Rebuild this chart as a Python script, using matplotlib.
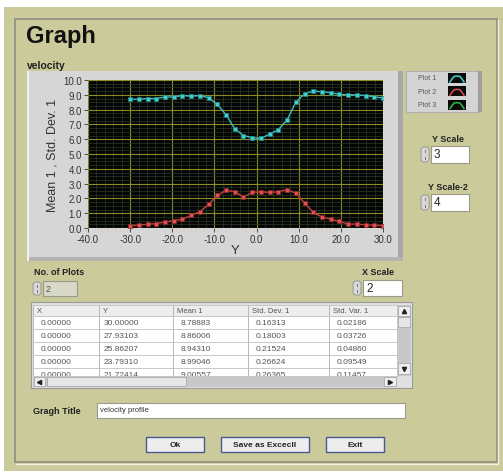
import matplotlib
matplotlib.use("Agg")
import matplotlib.pyplot as plt
from matplotlib.patches import Rectangle, FancyBboxPatch
from matplotlib.ticker import AutoMinorLocator

# ---------------- data ----------------
y_pos = [30.00000, 27.93103, 25.86207, 23.79310, 21.72414, 19.65517, 17.58621,
         15.51724, 13.44828, 11.37931, 9.31034, 7.24138, 5.17241, 3.10345,
         1.03448, -1.03448, -3.10345, -5.17241, -7.24138, -9.31034, -11.37931,
         -13.44828, -15.51724, -17.58621, -19.65517, -21.72414, -23.79310,
         -25.86207, -27.93103, -30.00000]
mean1 = [8.789, 8.860, 8.943, 8.990, 9.006, 9.03, 9.15, 9.20, 9.26, 9.07,
         8.50, 7.30, 6.65, 6.35, 6.05, 6.10, 6.25, 6.70, 7.65, 8.35,
         8.80, 8.95, 8.90, 8.95, 8.85, 8.85, 8.75, 8.75, 8.70, 8.70]
std1 = [0.163, 0.180, 0.215, 0.266, 0.264, 0.45, 0.60, 0.75, 1.05, 1.70,
        2.35, 2.60, 2.45, 2.40, 2.45, 2.40, 2.10, 2.45, 2.55, 2.20,
        1.60, 1.10, 0.85, 0.60, 0.50, 0.40, 0.30, 0.25, 0.20, 0.15]

table_cols = ["X", "Y", "Mean 1", "Std. Dev. 1", "Std. Var. 1"]
table_rows = [
    ["0.00000", "30.00000", "8.78883", "0.16313", "0.02186"],
    ["0.00000", "27.93103", "8.86006", "0.18003", "0.03726"],
    ["0.00000", "25.86207", "8.94310", "0.21524", "0.04860"],
    ["0.00000", "23.79310", "8.99046", "0.26624", "0.09549"],
    ["0.00000", "21.72414", "9.00557", "0.26365", "0.11457"],
]
x_ticks = [-40, -30, -20, -10, 0, 10, 20, 30]
y_ticks = [0, 1, 2, 3, 4, 5, 6, 7, 8, 9, 10]
legend_names = ["Plot 1", "Plot 2", "Plot 3"]
legend_colors = ["#3EC8C8", "#D84848", "#30B040"]

W, H = 503, 477
BEIGE = "#CACA9B"
FONT = ["Liberation Sans", "DejaVu Sans"]
plt.rcParams["font.family"] = FONT

fig = plt.figure(figsize=(W / 100, H / 100), dpi=100)
fig.patch.set_facecolor("white")

# overlay axes in pixel coordinates
ov = fig.add_axes([0, 0, 1, 1])
ov.set_xlim(0, W)
ov.set_ylim(H, 0)
ov.axis("off")


def rect(x0, y0, x1, y1, fc, ec="none", lw=0.8, z=1):
    ov.add_patch(Rectangle((x0, y0), x1 - x0, y1 - y0, facecolor=fc,
                           edgecolor=ec, linewidth=lw, zorder=z))


def txt(x, y, s, size=7, weight="normal", ha="left", color="#222222", z=5, **kw):
    ov.text(x, y, s, fontsize=size, fontweight=weight, ha=ha, va="center",
            color=color, zorder=z, **kw)


# window background
rect(4, 8, 503, 472, BEIGE)
rect(15, 20, 497, 463, "none", ec="#8E8E80", lw=1.2, z=2)
ov.plot([16, 498], [464.5, 464.5], color="#F2F2E0", lw=1, zorder=2)
ov.plot([498.5, 498.5], [21, 464], color="#F2F2E0", lw=1, zorder=2)

# titles
txt(26, 36, "Graph", size=17, weight="bold", color="#111111")
txt(27, 66, "velocity", size=7.5, weight="bold", color="#222222")

# graph panel
rect(27, 72, 403, 262, "#D6D6D6", z=1.5)
rect(398, 72, 403, 262, "#A8A8A8", z=1.6)
rect(27, 258, 403, 262, "#B4B4B4", z=1.6)
rect(27, 72, 29, 262, "#EEEEEE", z=1.6)

# legend
rect(406, 72, 480, 113, "#D4D4D4", ec="#B0B0B0", z=2)
rect(478, 72, 482, 113, "#9E9E9E", z=2.1)
for i, (name, col) in enumerate(zip(legend_names, legend_colors)):
    yc = 79 + i * 13.3
    txt(418, yc, name, size=5, color="#555555")
    rect(448, yc - 5, 466, yc + 5, "#0A0A0A", z=3)
    ov.plot([450, 452, 454, 457, 460, 462, 464],
            [yc + 4, yc + 1, yc - 1.5, yc - 2, yc - 1.5, yc + 1, yc + 4],
            color=col, lw=1.2, zorder=4)


def numctrl(sx, bx0, bx1, y0, y1, val, fc="white"):
    ov.add_patch(FancyBboxPatch((sx, y0 + 1), bx0 - sx - 2, (y1 - y0) - 2,
                                boxstyle="round,pad=0,rounding_size=3",
                                facecolor="#D8D8D8", edgecolor="#8E8E8E",
                                linewidth=0.6, zorder=3))
    ov.plot([sx + (bx0 - sx - 2) / 2] * 2, [y0 + 4, y0 + 6], color="#777777", lw=0.7, zorder=4)
    ov.plot([sx + (bx0 - sx - 2) / 2] * 2, [y1 - 6, y1 - 4], color="#777777", lw=0.7, zorder=4)
    rect(bx0, y0, bx1, y1, fc, ec="#9A9A8A", z=3)
    txt(bx0 + 3, (y0 + y1) / 2, val, size=8.5 if fc == "white" else 6.5,
        color="#222222" if fc == "white" else "#555555", z=4)


txt(448, 140, "Y Scale", size=6.5, weight="bold", ha="center")
numctrl(421, 431, 469, 147, 164, "3")
txt(448, 188, "Y Scale-2", size=6.5, weight="bold", ha="center")
numctrl(421, 431, 469, 195, 212, "4")
txt(34, 273, "No. of Plots", size=6.5, weight="bold")
numctrl(33, 43, 77, 282, 297, "2", fc="#D8D8C8")
txt(378, 273, "X Scale", size=6.5, weight="bold", ha="center")
numctrl(353, 363, 402, 281, 297, "2")

# table
col_x = [33, 99, 173, 248, 329, 397]
row_y = [306, 317, 330, 343, 356, 369]
rect(31, 303, 412, 389, "#E0E0E0", ec="#9A9A9A", z=2)
rect(33, 306, 397, 317, "#EDEDED", z=2.2)
rect(33, 317, 397, 377, "white", z=2.2)
for x in col_x:
    ov.plot([x, x], [306, 377], color="#B8B8B8", lw=0.7, zorder=2.5)
for y in row_y + [317]:
    ov.plot([33, 397], [y, y], color="#C8C8C8", lw=0.7, zorder=2.5)
for j, c in enumerate(table_cols):
    txt(col_x[j] + 4, 311.5, c, size=5.5, color="#555555", z=3)
for i, row in enumerate(table_rows):
    yc = 323.5 + i * 13
    for j, v in enumerate(row):
        txt(col_x[j] + 8 if j != 1 else col_x[j] + 5, yc, v, size=6,
            color="#555555", z=3)
# vertical scrollbar
rect(397, 306, 411, 377, "#C8C8C8", z=3.5)
rect(398, 307, 410, 317, "#EEEEEE", ec="#A0A0A0", lw=0.5, z=3.6)
rect(398, 318, 410, 328, "#E6E6E6", ec="#A0A0A0", lw=0.5, z=3.6)
rect(398, 364, 410, 375, "#EEEEEE", ec="#A0A0A0", lw=0.5, z=3.6)
ov.plot([404], [312], marker="^", ms=3, color="#222222", zorder=4)
ov.plot([404], [370], marker="v", ms=3, color="#222222", zorder=4)
# horizontal scrollbar
rect(33, 377, 397, 388, "#C8C8C8", z=3.5)
rect(34, 378, 45, 387, "#EEEEEE", ec="#A0A0A0", lw=0.5, z=3.6)
rect(47, 378, 186, 387, "#E6E6E6", ec="#A0A0A0", lw=0.5, z=3.6)
rect(384, 378, 396, 387, "#EEEEEE", ec="#A0A0A0", lw=0.5, z=3.6)
ov.plot([39.5], [382.5], marker="<", ms=3, color="#222222", zorder=4)
ov.plot([390], [382.5], marker=">", ms=3, color="#222222", zorder=4)

# graph title control
txt(33, 412, "Gragh Title", size=6.5, weight="bold")
rect(97, 404, 405, 419, "white", ec="#9A9A8A", z=3)
txt(100, 411, "velocity profile", size=5.5, color="#333333")

# buttons
for (x0, x1, label) in [(146, 204, "Ok"), (221, 309, "Save as Excecll"),
                        (326, 384, "Exit")]:
    rect(x0, 438, x1, 453, "#EDEDED", ec="#4A5A90", lw=1.0, z=3)
    txt((x0 + x1) / 2, 445.5, label, size=6, weight="bold", ha="center", z=4)

# ---------------- plot ----------------
ax = fig.add_axes([88 / W, 1 - 229 / H, (383 - 88) / W, (229 - 81) / H], zorder=5)
ax.set_facecolor("#050505")
ax.plot(y_pos, mean1, color="#3EC0C0", lw=1.0, marker="s", ms=3.2,
        mfc="#40D0D0", mec="#208888", mew=0.5)
ax.plot(y_pos, std1, color="#C84040", lw=1.0, marker="s", ms=3.2,
        mfc="#E05050", mec="#902828", mew=0.5)
ax.set_xlim(-40, 30)
ax.set_ylim(0, 10)
ax.set_xticks(x_ticks)
ax.set_yticks(y_ticks)
ax.set_xticklabels([f"{v:.1f}" for v in x_ticks])
ax.set_yticklabels([f"{v:.1f}" for v in y_ticks])
ax.xaxis.set_minor_locator(AutoMinorLocator(5))
ax.yaxis.set_minor_locator(AutoMinorLocator(4))
ax.grid(True, which="major", color="#8C8C28", lw=0.8)
ax.grid(True, which="minor", color="#2A3A2A", lw=0.5)
ax.set_axisbelow(True)
ax.tick_params(which="major", length=3, width=0.6, color="#333333",
               labelsize=7, labelcolor="#333333", pad=1.5)
ax.tick_params(which="minor", length=0)
for s in ax.spines.values():
    s.set_visible(False)
ax.set_xlabel("Y", fontsize=9.5, color="#333333", labelpad=0)
ax.set_ylabel("Mean 1 , Std. Dev. 1", fontsize=9, color="#333333", labelpad=3)

fig.savefig("out.png", dpi=100, facecolor=fig.get_facecolor())
